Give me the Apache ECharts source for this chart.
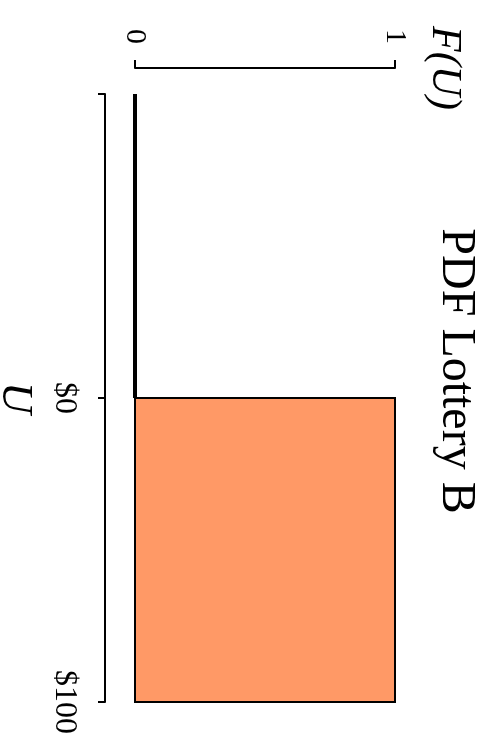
<!DOCTYPE html>
<html>
<head>
<meta charset="utf-8">
<script src="https://cdn.jsdelivr.net/npm/echarts@6/dist/echarts.min.js"></script>
<style>
    html, body { margin: 0; padding: 0; background: #fff; overflow: hidden; }
    #chart {
        position: absolute;
        left: 0;
        top: 0;
        width: 744px;
        height: 486px;
        transform-origin: 0 0;
        transform: translate(486px, 0) rotate(90deg); /* chart is drawn sideways */
    }
</style>
</head>
<body>
<div id="chart"></div>
<script>
const titleText = 'PDF Lottery B';

// U axis (dollars) and F(U) axis
const uTicks = [-100, 0, 100];
const uTickLabels = ['', '$0', '$100'];
const fTicks = [0, 1];

// zero-density stretch below $0
const lineU = [-100, 0];
const lineF = [0, 0];

// uniform block from $0 to $100
const blockStart = [0];
const blockEnd = [100];
const blockHeight = [1];

const chart = echarts.init(document.getElementById('chart'), null, { renderer: 'canvas' });

const serif = "'Liberation Serif', 'Times New Roman', serif";

const option = {
    animation: false,
    backgroundColor: '#fff',
    title: {
        text: titleText,
        left: 366,
        top: 1,
        textAlign: 'center',
        textStyle: { fontFamily: serif, fontSize: 48, fontWeight: 'normal', color: '#000' }
    },
    grid: {
        left: 94, right: 42, top: 91, bottom: 135,
        containLabel: false,
        outerBoundsMode: 'none'
    },
    xAxis: {
        type: 'value',
        position: 'bottom',
        min: uTicks[0],
        max: uTicks[uTicks.length - 1],
        interval: 100,
        offset: 30,
        name: 'U',
        nameLocation: 'middle',
        nameGap: 68,
        nameTextStyle: { fontFamily: serif, fontSize: 44, fontStyle: 'italic', color: '#000' },
        axisLine: { show: true, onZero: false, lineStyle: { color: '#000', width: 2 } },
        axisTick: { show: true, length: 7, lineStyle: { color: '#000', width: 2 } },
        axisLabel: {
            fontFamily: serif,
            fontSize: 32,
            color: '#000',
            margin: 25,
            formatter: v => uTickLabels[uTicks.indexOf(v)] || ''
        },
        splitLine: { show: false }
    },
    yAxis: {
        type: 'value',
        position: 'left',
        min: fTicks[0],
        max: fTicks[1],
        interval: 1,
        offset: 26,
        name: 'F(U)',
        nameLocation: 'end',
        nameGap: 28,
        nameTextStyle: { fontFamily: serif, fontSize: 42, fontStyle: 'italic', color: '#000' },
        axisLine: { show: true, onZero: false, lineStyle: { color: '#000', width: 2 } },
        axisTick: { show: true, length: 8, lineStyle: { color: '#000', width: 2 } },
        axisLabel: { fontFamily: serif, fontSize: 30, color: '#000', margin: 24 },
        splitLine: { show: false }
    },
    series: [
        {
            type: 'custom',
            clip: false,
            data: blockStart.map((s, i) => [s, blockEnd[i], blockHeight[i]]),
            renderItem: (params, api) => {
                const p0 = api.coord([api.value(0), 0]);
                const p1 = api.coord([api.value(1), api.value(2)]);
                return {
                    type: 'rect',
                    shape: { x: p0[0], y: p1[1], width: p1[0] - p0[0], height: p0[1] - p1[1] },
                    style: { fill: '#FF9966', stroke: '#000', lineWidth: 2 }
                };
            }
        },
        {
            type: 'line',
            clip: false,
            showSymbol: false,
            data: lineU.map((u, i) => [u, lineF[i]]),
            lineStyle: { color: '#000', width: 4 }
        }
    ]
};

chart.setOption(option);
</script>
</body>
</html>
